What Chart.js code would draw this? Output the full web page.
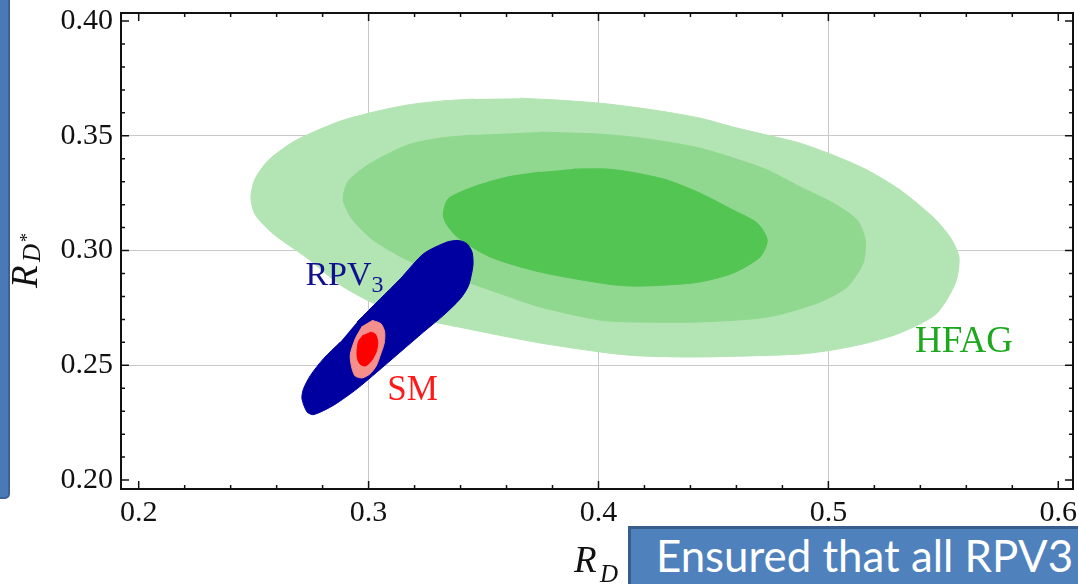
<!DOCTYPE html>
<html>
<head>
<meta charset="utf-8">
<script src="https://cdn.jsdelivr.net/npm/chart.js@4.4.1/dist/chart.umd.min.js"></script>
<style>
  html, body { margin: 0; padding: 0; background: #fff; }
  body { width: 1078px; height: 584px; position: relative; overflow: hidden; }
  #wrap { position: absolute; left: 0; top: 0; width: 1078px; height: 584px; }
  .side { position: absolute; left: -10px; top: -10px; width: 16px; height: 505px;
          background: #4a79b8; border: 2px solid #3a6296; border-radius: 5px; }
  .note { position: absolute; left: 628px; top: 526px; width: 470px; height: 80px;
          box-sizing: border-box; background: #4f81bd; border: 3px solid #385d8a;
          color: #fff; font-family: Lato, 'Open Sans', sans-serif; font-size: 43.8px;
          line-height: 1; padding: 5px 0 0 25px; white-space: nowrap; }
</style>
</head>
<body>
<div id="wrap"><canvas id="plot" width="1078" height="584"></canvas></div>
<div class="side"></div>
<div class="note">Ensured that all RPV3</div>
<script>
// axis ticks
const xTicks = [0.2, 0.3, 0.4, 0.5, 0.6];
const xTickLabels = ['0.2', '0.3', '0.4', '0.5', '0.6'];
const yTicks = [0.20, 0.25, 0.30, 0.35, 0.40];
const yTickLabels = ['0.20', '0.25', '0.30', '0.35', '0.40'];

// HFAG contours (R_D, R_D*)
const hfagOuter = [
  [0.3660,0.3664],[0.3833,0.3655],[0.4007,0.3642],[0.4151,0.3625],[0.4299,0.3603],[0.4442,0.3577],
  [0.4586,0.3538],[0.4734,0.3503],[0.4877,0.3468],[0.5020,0.3416],[0.5168,0.3351],[0.5312,0.3264],
  [0.5455,0.3146],[0.5529,0.3059],[0.5568,0.2972],[0.5553,0.2860],[0.5470,0.2725],[0.5312,0.2641],
  [0.5168,0.2597],[0.5020,0.2567],[0.4877,0.2549],[0.4660,0.2541],[0.4399,0.2536],[0.4181,0.2541],
  [0.4038,0.2554],[0.3747,0.2597],[0.3455,0.2654],[0.3168,0.2715],[0.3020,0.2771],[0.2877,0.2850],
  [0.2733,0.2967],[0.2586,0.3072],[0.2508,0.3155],[0.2488,0.3229],[0.2505,0.3310],[0.2565,0.3394],
  [0.2680,0.3478],[0.2877,0.3564],[0.3020,0.3603],[0.3168,0.3634],[0.3312,0.3651],[0.3455,0.3660]
];
const hfagMiddle = [
  [0.3747,0.3516],[0.4007,0.3507],[0.4151,0.3494],[0.4299,0.3473],[0.4442,0.3446],[0.4586,0.3403],
  [0.4734,0.3351],[0.4877,0.3277],[0.5020,0.3207],[0.5125,0.3133],[0.5160,0.3046],[0.5151,0.2946],
  [0.5081,0.2841],[0.4951,0.2771],[0.4734,0.2710],[0.4442,0.2689],[0.4151,0.2689],[0.4007,0.2697],
  [0.3747,0.2754],[0.3603,0.2802],[0.3455,0.2854],[0.3312,0.2906],[0.3168,0.2959],[0.3020,0.3046],
  [0.2930,0.3135],[0.2890,0.3220],[0.2910,0.3300],[0.3000,0.3375],[0.3168,0.3459],[0.3312,0.3490],
  [0.3455,0.3503]
];
const hfagInner = [
  [0.3890,0.3355],[0.4038,0.3355],[0.4151,0.3340],[0.4299,0.3307],[0.4442,0.3250],[0.4586,0.3176],
  [0.4690,0.3120],[0.4734,0.3046],[0.4703,0.2972],[0.4586,0.2902],[0.4442,0.2863],[0.4299,0.2850],
  [0.4151,0.2845],[0.4038,0.2854],[0.3747,0.2906],[0.3529,0.2972],[0.3386,0.3059],[0.3336,0.3120],
  [0.3325,0.3163],[0.3347,0.3226],[0.3455,0.3277],[0.3603,0.3320],[0.3747,0.3342]
];

// RPV3 allowed region
const rpv3Region = [
  [0.2950,0.2689],[0.3051,0.2790],[0.3138,0.2877],[0.3239,0.2986],[0.3341,0.3037],[0.3391,0.3044],
  [0.3428,0.3030],[0.3450,0.2993],[0.3454,0.2936],[0.3435,0.2848],[0.3399,0.2790],[0.3326,0.2718],
  [0.3239,0.2645],[0.3138,0.2558],[0.3037,0.2471],[0.2950,0.2398],[0.2848,0.2326],[0.2761,0.2285],
  [0.2732,0.2297],[0.2710,0.2355],[0.2717,0.2398],[0.2747,0.2456],[0.2804,0.2529],[0.2877,0.2601]
];

// SM prediction contours
const smOuter = [
  [0.3015,0.2696],[0.3054,0.2681],[0.3070,0.2645],[0.3068,0.2597],[0.3051,0.2544],[0.3033,0.2497],
  [0.3007,0.2463],[0.2973,0.2445],[0.2942,0.2453],[0.2928,0.2485],[0.2920,0.2544],[0.2942,0.2616],
  [0.2973,0.2671]
];
const smInner = [
  [0.3007,0.2645],[0.3029,0.2636],[0.3040,0.2601],[0.3033,0.2558],[0.3012,0.2519],[0.2986,0.2497],
  [0.2962,0.2506],[0.2951,0.2532],[0.2950,0.2567],[0.2957,0.2606],[0.2977,0.2632]
];

// region labels
const labelTexts = ['RPV', 'SM', 'HFAG'];
const labelX = [0.2725, 0.3081, 0.5377];
const labelY = [0.2850, 0.2349, 0.2558];

const toXY = arr => arr.map(p => ({ x: p[0], y: p[1] }));

function region(data, color) {
  return {
    data: toXY(data),
    backgroundColor: color,
    borderColor: color,
    borderWidth: 1,
    fill: 'shape',
    pointRadius: 0,
    tension: 0.25
  };
}

const serif = "'Liberation Serif', 'DejaVu Serif', serif";

// labels, frame and inward ticks
const decor = {
  id: 'decor',
  afterDatasetsDraw(chart) {
    const { ctx, chartArea: a, scales: { x, y } } = chart;
    ctx.save();
    ctx.textBaseline = 'alphabetic';
    ctx.textAlign = 'left';

    // RPV3
    ctx.fillStyle = '#101090';
    ctx.font = '34px ' + serif;
    let px = x.getPixelForValue(labelX[0]), py = y.getPixelForValue(labelY[0]);
    ctx.fillText(labelTexts[0], px, py);
    let w = ctx.measureText(labelTexts[0]).width;
    ctx.font = '24px ' + serif;
    ctx.fillText('3', px + w, py + 7);

    ctx.fillStyle = '#ff1a1a';
    ctx.font = '35px ' + serif;
    ctx.fillText(labelTexts[1], x.getPixelForValue(labelX[1]), y.getPixelForValue(labelY[1]));

    ctx.fillStyle = '#1ea81e';
    ctx.font = '37px ' + serif;
    ctx.fillText(labelTexts[2], x.getPixelForValue(labelX[2]), y.getPixelForValue(labelY[2]));

    // ticks
    ctx.strokeStyle = '#111';
    ctx.lineWidth = 1.5;
    ctx.beginPath();
    for (let i = 0; i <= 20; i++) {
      const v = 0.2 + i * 0.02;
      const p = x.getPixelForValue(v);
      if (p < a.left || p > a.right) continue;
      const len = i % 5 === 0 ? 8 : 4;
      ctx.moveTo(p, a.bottom); ctx.lineTo(p, a.bottom - len);
      ctx.moveTo(p, a.top); ctx.lineTo(p, a.top + len);
    }
    for (let i = 0; i <= 20; i++) {
      const v = 0.2 + i * 0.01;
      const p = y.getPixelForValue(v);
      if (p < a.top || p > a.bottom) continue;
      const len = i % 5 === 0 ? 8 : 4;
      ctx.moveTo(a.left, p); ctx.lineTo(a.left + len, p);
      ctx.moveTo(a.right, p); ctx.lineTo(a.right - len, p);
    }
    ctx.stroke();

    ctx.lineWidth = 2;
    ctx.strokeRect(a.left, a.top, a.right - a.left, a.bottom - a.top);
    ctx.restore();
  },
  afterDraw(chart) {
    const { ctx } = chart;
    ctx.save();
    ctx.fillStyle = '#111';
    ctx.textBaseline = 'alphabetic';
    ctx.textAlign = 'left';
    // x title R_D
    ctx.font = 'italic 37px ' + serif;
    ctx.fillText('R', 574, 572);
    ctx.font = 'italic 25px ' + serif;
    ctx.fillText('D', 600, 582);
    // y title R_D*
    ctx.translate(37, 288);
    ctx.rotate(-Math.PI / 2);
    ctx.font = 'italic 37px ' + serif;
    ctx.fillText('R', 0, 0);
    ctx.font = 'italic 25px ' + serif;
    ctx.fillText('D', 26, 3);
    const wd = ctx.measureText('D').width;
    ctx.font = '18px ' + serif;
    ctx.fillText('*', 26 + wd + 2, -4);
    ctx.restore();
  }
};

const gridColor = c => (c.index === 0 || c.index === c.scale.ticks.length - 1) ? 'rgba(0,0,0,0)' : '#c9c9c9';

new Chart(document.getElementById('plot'), {
  type: 'line',
  data: {
    datasets: [
      region(smInner, '#ff0000'),
      region(smOuter, '#f58f8c'),
      region(rpv3Region, '#0000a0'),
      region(hfagInner, '#53c553'),
      region(hfagMiddle, '#90d890'),
      region(hfagOuter, '#b3e4b3')
    ]
  },
  options: {
    responsive: false,
    animation: false,
    layout: { padding: { top: 13, right: 5, left: 0, bottom: 0 } },
    plugins: { legend: { display: false }, tooltip: { enabled: false } },
    scales: {
      x: {
        type: 'linear', position: 'bottom', min: 0.1923, max: 0.6064,
        afterBuildTicks: s => { s.ticks = xTicks.map(v => ({ value: v })); },
        afterFit: s => { s.height = 95; s.paddingLeft = 0; s.paddingRight = 0; },
        ticks: {
          autoSkip: false, maxRotation: 0, padding: 6, color: '#111',
          font: { family: serif, size: 30 },
          callback: (v, i) => xTickLabels[i]
        },
        grid: { color: gridColor, drawTicks: false, lineWidth: 1 },
        border: { display: false }
      },
      y: {
        type: 'linear', min: 0.1961, max: 0.4035,
        afterBuildTicks: s => { s.ticks = yTicks.map(v => ({ value: v })); },
        afterFit: s => { s.width = 121; s.paddingTop = 0; s.paddingBottom = 0; },
        ticks: {
          autoSkip: false, padding: 8, color: '#111',
          font: { family: serif, size: 30 },
          callback: (v, i) => yTickLabels[i]
        },
        grid: { color: gridColor, drawTicks: false, lineWidth: 1 },
        border: { display: false }
      }
    }
  },
  plugins: [decor]
});
</script>
</body>
</html>
